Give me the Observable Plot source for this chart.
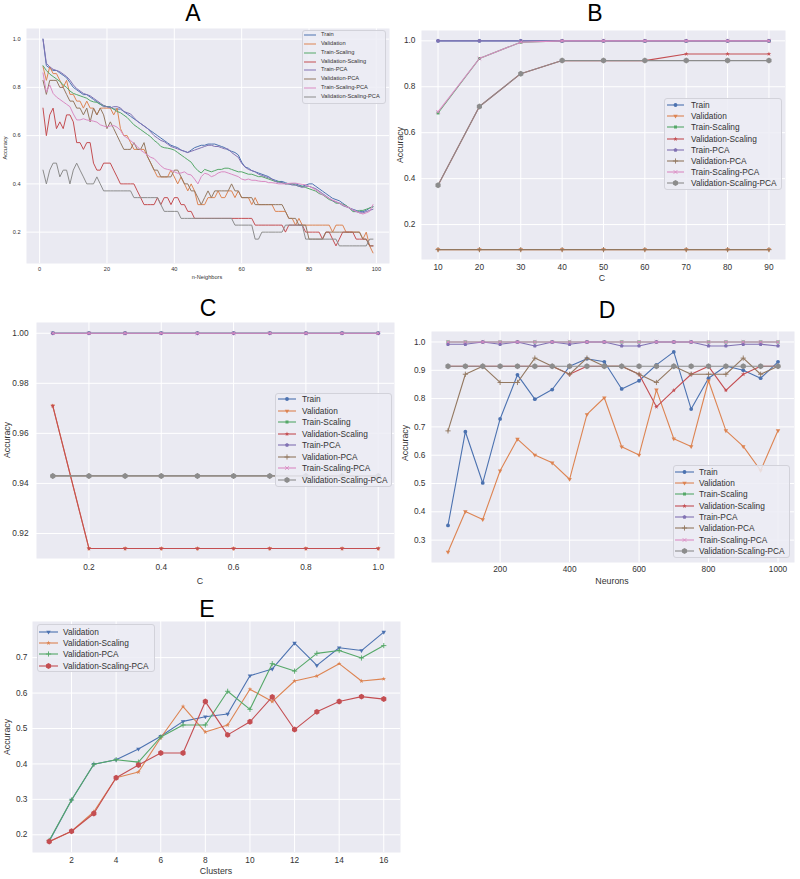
<!DOCTYPE html>
<html><head><meta charset="utf-8">
<script src="https://cdn.jsdelivr.net/npm/d3@7"></script>
<script src="https://cdn.jsdelivr.net/npm/@observablehq/plot@0.6"></script>
<style>
body{margin:0;background:#fff;}
#fig{position:relative;width:800px;height:879px;overflow:hidden;font-family:"Liberation Sans",Arial,sans-serif;background:#fff;}
.title{position:absolute;font-family:"Liberation Sans",Arial,sans-serif;font-size:23px;color:#000;transform:translateX(-50%);line-height:1;}
.lab{position:absolute;color:#333;white-space:nowrap;line-height:1;}
.ylab{transform:translate(-50%,-50%) rotate(-90deg);}
.xlab{transform:translate(-50%,-50%);}
.legend{position:absolute;background:rgba(236,236,244,0.85);border:1px solid #d2d2da;border-radius:3px;box-sizing:border-box;}
.ltxt{position:absolute;color:#333;white-space:nowrap;line-height:1;transform:translateY(-50%);}
.lsw{position:absolute;overflow:visible;}
</style></head><body><div id="fig"></div>
<script>
// ---------------- DATA ----------------
const seriesNames = ["Train","Validation","Train-Scaling","Validation-Scaling","Train-PCA","Validation-PCA","Train-Scaling-PCA","Validation-Scaling-PCA"];
const eNames = ["Validation","Validation-Scaling","Validation-PCA","Validation-Scaling-PCA"];

// Panel A (x = n-Neighbors 1..99)
const A_neighbors = Array.from({length: 99}, (_, i) => i + 1);
const A_xTicks = [0, 20, 40, 60, 80, 100];
const A_yTicks = [0.2, 0.4, 0.6, 0.8, 1.0];
const A_train = [1.00,0.89,0.88,0.87,0.87,0.86,0.85,0.84,0.82,0.80,
 0.79,0.78,0.77,0.77,0.76,0.75,0.74,0.73,0.72,0.72,
 0.72,0.71,0.71,0.71,0.70,0.69,0.68,0.67,0.66,0.65,
 0.64,0.63,0.62,0.61,0.60,0.59,0.58,0.57,0.56,0.555,
 0.55,0.54,0.535,0.53,0.54,0.55,0.555,0.56,0.56,0.565,
 0.565,0.565,0.56,0.555,0.55,0.54,0.535,0.53,0.52,0.49,
 0.47,0.465,0.455,0.45,0.445,0.44,0.435,0.43,0.42,0.415,
 0.41,0.41,0.405,0.40,0.40,0.40,0.395,0.39,0.395,0.40,
 0.40,0.39,0.38,0.37,0.36,0.35,0.34,0.335,0.33,0.32,
 0.31,0.30,0.295,0.29,0.285,0.285,0.29,0.30,0.305];
const A_validation = [0.886,0.829,0.886,0.857,0.857,0.829,0.800,0.829,0.771,0.771,
 0.743,0.743,0.714,0.743,0.714,0.714,0.686,0.714,0.714,0.714,
 0.714,0.686,0.714,0.629,0.600,0.600,0.571,0.543,0.543,0.543,
 0.543,0.514,0.486,0.457,0.429,0.429,0.429,0.429,0.457,0.429,
 0.400,0.429,0.400,0.371,0.400,0.371,0.314,0.314,0.314,0.343,
 0.343,0.343,0.371,0.343,0.343,0.371,0.371,0.343,0.371,0.343,
 0.343,0.343,0.314,0.343,0.314,0.314,0.314,0.314,0.314,0.286,
 0.286,0.286,0.286,0.257,0.257,0.229,0.257,0.229,0.229,0.229,
 0.229,0.229,0.229,0.229,0.229,0.229,0.200,0.229,0.229,0.229,
 0.200,0.200,0.200,0.200,0.200,0.171,0.200,0.143,0.114];
const A_trainScaling = [0.89,0.87,0.855,0.845,0.835,0.825,0.81,0.80,0.785,0.775,
 0.77,0.765,0.76,0.755,0.745,0.74,0.738,0.73,0.725,0.72,
 0.717,0.71,0.70,0.695,0.685,0.675,0.66,0.645,0.635,0.625,
 0.615,0.605,0.595,0.58,0.57,0.555,0.55,0.548,0.545,0.54,
 0.53,0.52,0.51,0.50,0.49,0.47,0.455,0.445,0.46,0.455,
 0.45,0.455,0.46,0.46,0.465,0.465,0.46,0.455,0.45,0.45,
 0.445,0.44,0.44,0.435,0.43,0.43,0.425,0.42,0.415,0.41,
 0.41,0.405,0.40,0.40,0.40,0.395,0.39,0.39,0.385,0.38,
 0.375,0.37,0.36,0.355,0.345,0.335,0.33,0.32,0.32,0.315,
 0.31,0.30,0.285,0.285,0.29,0.29,0.295,0.30,0.305];
const A_validationScaling = [0.714,0.600,0.686,0.714,0.629,0.657,0.629,0.686,0.686,0.657,
 0.571,0.571,0.543,0.571,0.571,0.486,0.457,0.457,0.486,0.486,
 0.486,0.457,0.429,0.400,0.400,0.400,0.400,0.400,0.371,0.343,
 0.314,0.314,0.314,0.314,0.343,0.314,0.343,0.343,0.314,0.343,
 0.343,0.314,0.314,0.286,0.286,0.257,0.257,0.257,0.257,0.257,
 0.257,0.257,0.257,0.257,0.257,0.257,0.257,0.257,0.257,0.257,
 0.257,0.257,0.257,0.229,0.229,0.229,0.229,0.229,0.229,0.229,
 0.229,0.229,0.200,0.229,0.229,0.229,0.229,0.229,0.200,0.200,
 0.200,0.200,0.200,0.171,0.200,0.200,0.171,0.143,0.171,0.200,
 0.200,0.200,0.200,0.171,0.171,0.171,0.171,0.143,0.143];
const A_trainPCA = [1.00,0.90,0.885,0.875,0.87,0.865,0.855,0.845,0.83,0.81,
 0.795,0.785,0.775,0.77,0.765,0.755,0.745,0.735,0.725,0.72,
 0.715,0.72,0.72,0.715,0.70,0.695,0.69,0.675,0.66,0.65,
 0.64,0.63,0.615,0.60,0.59,0.58,0.575,0.565,0.555,0.55,
 0.545,0.54,0.535,0.53,0.535,0.54,0.545,0.55,0.555,0.56,
 0.56,0.555,0.555,0.55,0.545,0.545,0.53,0.52,0.51,0.485,
 0.47,0.46,0.455,0.45,0.44,0.435,0.43,0.425,0.42,0.41,
 0.405,0.405,0.40,0.40,0.395,0.395,0.39,0.385,0.39,0.39,
 0.385,0.38,0.37,0.36,0.35,0.34,0.33,0.325,0.32,0.31,
 0.305,0.30,0.29,0.285,0.28,0.28,0.285,0.29,0.295];
const A_validationPCA = [0.829,0.771,0.829,0.829,0.829,0.800,0.800,0.771,0.743,0.743,
 0.714,0.714,0.686,0.714,0.657,0.714,0.686,0.714,0.686,0.629,
 0.657,0.629,0.600,0.571,0.543,0.543,0.543,0.571,0.543,0.543,
 0.571,0.514,0.486,0.457,0.457,0.429,0.429,0.429,0.429,0.457,
 0.457,0.429,0.400,0.400,0.371,0.371,0.343,0.314,0.343,0.371,
 0.343,0.371,0.371,0.371,0.371,0.371,0.400,0.371,0.371,0.343,
 0.343,0.343,0.343,0.314,0.314,0.314,0.314,0.314,0.314,0.314,
 0.314,0.314,0.286,0.257,0.257,0.257,0.229,0.229,0.229,0.171,
 0.171,0.171,0.171,0.171,0.200,0.200,0.200,0.200,0.200,0.200,
 0.200,0.200,0.200,0.200,0.200,0.171,0.171,0.143,0.143];
const A_trainScalingPCA = [0.86,0.78,0.81,0.775,0.76,0.75,0.74,0.73,0.72,0.69,
 0.665,0.665,0.67,0.665,0.663,0.66,0.656,0.645,0.64,0.636,
 0.64,0.642,0.635,0.622,0.60,0.59,0.58,0.567,0.555,0.54,
 0.53,0.52,0.51,0.505,0.49,0.475,0.464,0.46,0.457,0.45,
 0.444,0.445,0.45,0.44,0.437,0.42,0.40,0.43,0.444,0.44,
 0.43,0.435,0.445,0.45,0.45,0.445,0.44,0.435,0.43,0.42,
 0.416,0.42,0.415,0.415,0.412,0.41,0.41,0.405,0.405,0.403,
 0.40,0.40,0.40,0.402,0.403,0.403,0.40,0.398,0.396,0.39,
 0.383,0.375,0.365,0.355,0.348,0.34,0.333,0.327,0.32,0.313,
 0.307,0.30,0.293,0.286,0.28,0.275,0.28,0.286,0.314];
const A_validationScalingPCA = [0.457,0.400,0.457,0.486,0.486,0.429,0.457,0.457,0.400,0.457,
 0.486,0.457,0.429,0.400,0.400,0.400,0.429,0.400,0.371,0.371,
 0.371,0.371,0.371,0.371,0.371,0.371,0.371,0.343,0.343,0.343,
 0.343,0.343,0.343,0.343,0.343,0.314,0.286,0.286,0.286,0.286,
 0.286,0.257,0.257,0.257,0.257,0.257,0.257,0.257,0.257,0.257,
 0.257,0.257,0.257,0.257,0.257,0.257,0.257,0.229,0.229,0.229,
 0.229,0.229,0.229,0.171,0.171,0.200,0.200,0.200,0.200,0.200,
 0.200,0.200,0.229,0.229,0.229,0.229,0.229,0.229,0.171,0.171,
 0.171,0.171,0.171,0.171,0.171,0.171,0.171,0.171,0.143,0.143,
 0.143,0.143,0.143,0.143,0.143,0.143,0.143,0.171,0.171];

// Panel B (x = C)
const B_C = [10, 20, 30, 40, 50, 60, 70, 80, 90];
const B_yTicks = [0.2, 0.4, 0.6, 0.8, 1.0];
const B_train = [1,1,1,1,1,1,1,1,1];
const B_validation = [0.091,0.091,0.091,0.091,0.091,0.091,0.091,0.091,0.091];
const B_trainScaling = [0.686,0.923,0.994,1,1,1,1,1,1];
const B_validationScaling = [0.371,0.714,0.857,0.914,0.914,0.914,0.943,0.943,0.943];
const B_trainPCA = [1,1,1,1,1,1,1,1,1];
const B_validationPCA = [0.091,0.091,0.091,0.091,0.091,0.091,0.091,0.091,0.091];
const B_trainScalingPCA = [0.691,0.923,0.994,1,1,1,1,1,1];
const B_validationScalingPCA = [0.371,0.714,0.857,0.914,0.914,0.914,0.914,0.914,0.914];

// Panel C (x = C)
const C_C = [0.1,0.2,0.3,0.4,0.5,0.6,0.7,0.8,0.9,1.0];
const C_xTicks = [0.2,0.4,0.6,0.8,1.0];
const C_yTicks = [0.92,0.94,0.96,0.98,1.00];
const C_train = [1,1,1,1,1,1,1,1,1,1];
const C_validation = [0.971,0.914,0.914,0.914,0.914,0.914,0.914,0.914,0.914,0.914];
const C_trainScaling = [1,1,1,1,1,1,1,1,1,1];
const C_validationScaling = [0.971,0.914,0.914,0.914,0.914,0.914,0.914,0.914,0.914,0.914];
const C_trainPCA = [1,1,1,1,1,1,1,1,1,1];
const C_validationPCA = [0.943,0.943,0.943,0.943,0.943,0.943,0.943,0.943,0.943,0.943];
const C_trainScalingPCA = [1,1,1,1,1,1,1,1,1,1];
const C_validationScalingPCA = [0.943,0.943,0.943,0.943,0.943,0.943,0.943,0.943,0.943,0.943];

// Panel D (x = Neurons)
const D_neurons = [50,100,150,200,250,300,350,400,450,500,550,600,650,700,750,800,850,900,950,1000];
const D_xTicks = [200,400,600,800,1000];
const D_yTicks = [0.3,0.4,0.5,0.6,0.7,0.8,0.9,1.0];
const D_train = [0.352,0.683,0.502,0.728,0.884,0.798,0.832,0.914,0.941,0.930,0.834,0.863,0.919,0.965,0.763,0.872,0.915,0.900,0.872,0.930];
const D_validation = [0.258,0.401,0.373,0.545,0.657,0.601,0.573,0.515,0.744,0.803,0.630,0.601,0.831,0.658,0.631,0.863,0.687,0.631,0.546,0.687];
const D_trainScaling = [1,1,1,1,1,1,1,1,1,1,1,1,1,1,1,1,1,1,1,1];
const D_validationScaling = [0.914,0.914,0.914,0.914,0.914,0.914,0.914,0.886,0.914,0.914,0.914,0.886,0.771,0.829,0.886,0.914,0.829,0.886,0.914,0.914];
const D_trainPCA = [0.992,0.992,1.0,0.992,1.0,0.986,1.0,0.992,1.0,1.0,0.986,0.986,1.0,1.0,1.0,0.986,0.986,0.992,0.992,0.986];
const D_validationPCA = [0.686,0.886,0.914,0.857,0.857,0.943,0.914,0.886,0.943,0.914,0.914,0.886,0.857,0.914,0.886,0.886,0.886,0.943,0.886,0.914];
const D_trainScalingPCA = [1,1,1,1,1,1,1,1,1,1,1,1,1,1,1,1,1,1,1,1];
const D_validationScalingPCA = [0.914,0.914,0.914,0.914,0.914,0.914,0.914,0.914,0.914,0.914,0.914,0.914,0.914,0.914,0.914,0.914,0.914,0.914,0.914,0.914];

// Panel E (x = Clusters)
const E_clusters = [1,2,3,4,5,6,7,8,9,10,11,12,13,14,15,16];
const E_xTicks = [2,4,6,8,10,12,14,16];
const E_yTicks = [0.2,0.3,0.4,0.5,0.6,0.7];
const E_validation = [0.182,0.298,0.399,0.412,0.442,0.478,0.520,0.533,0.541,0.649,0.668,0.741,0.678,0.728,0.720,0.772];
const E_validationScaling = [0.180,0.210,0.265,0.361,0.377,0.474,0.562,0.490,0.510,0.611,0.576,0.634,0.648,0.683,0.634,0.640];
const E_validationPCA = [0.184,0.298,0.399,0.412,0.405,0.476,0.510,0.510,0.605,0.554,0.683,0.662,0.712,0.720,0.699,0.734];
const E_validationScalingPCA = [0.181,0.210,0.260,0.361,0.397,0.431,0.431,0.576,0.482,0.519,0.589,0.497,0.547,0.576,0.590,0.583];

// ---------------- STYLE ----------------
const palette = ["#4C72B0","#DD8452","#55A868","#C44E52","#8172B3","#937860","#DA8BC3","#8C8C8C"];
function poly(n, rot, scale) {
  return {draw(ctx, size) {
    const r = Math.sqrt(size / Math.PI) * scale;
    for (let i = 0; i < n; i++) {
      const a = rot + 2 * Math.PI * i / n;
      const x = r * Math.sin(a), y = -r * Math.cos(a);
      if (i) ctx.lineTo(x, y); else ctx.moveTo(x, y);
    }
    ctx.closePath();
  }};
}
const triDown = poly(3, Math.PI, 1.35);
const pentagon = poly(5, 0, 1.15);
const hexagon = poly(6, 0, 1.1);
const plusSym = {draw(ctx, size) { const r = Math.sqrt(size / Math.PI) * 1.3; ctx.moveTo(-r, 0); ctx.lineTo(r, 0); ctx.moveTo(0, -r); ctx.lineTo(0, r); }};
const timesSym = {draw(ctx, size) { const r = Math.sqrt(size / Math.PI) * 1.0; ctx.moveTo(-r, -r); ctx.lineTo(r, r); ctx.moveTo(-r, r); ctx.lineTo(r, -r); }};
const markerSet = [
  {sym: d3.symbolCircle, r: 1.9, stroked: false},
  {sym: triDown, r: 1.9, stroked: false},
  {sym: d3.symbolSquare, r: 1.7, stroked: false},
  {sym: d3.symbolStar, r: 1.45, stroked: false},
  {sym: pentagon, r: 1.8, stroked: false},
  {sym: plusSym, r: 2.0, stroked: true},
  {sym: timesSym, r: 1.8, stroked: true},
  {sym: hexagon, r: 2.7, stroked: false}
];
const eMarkers = [markerSet[1], markerSet[3], markerSet[5], markerSet[7]];

const fig = document.getElementById("fig");

function rows(xs, ys) { return xs.map((x, i) => ({x, y: ys[i]})); }

function makePanel(p) {
  const [fl, ft, fr, fb] = p.frame;
  const marks = [
    Plot.frame({fill: "#EAEAF2", stroke: "none"}),
    Plot.ruleX(p.xTicks, {stroke: "#ffffff", strokeWidth: 1}),
    Plot.ruleY(p.yTicks, {stroke: "#ffffff", strokeWidth: 1})
  ];
  p.series.forEach(s => {
    const data = rows(p.xs, s.values);
    marks.push(Plot.line(data, {x: "x", y: "y", stroke: s.color, strokeWidth: p.lw}));
    if (s.marker) {
      const m = s.marker;
      marks.push(Plot.dot(data, {x: "x", y: "y", symbol: m.sym, r: m.r,
        fill: m.stroked ? "none" : s.color, stroke: m.stroked ? s.color : "none", strokeWidth: m.stroked ? 0.9 : 0}));
    }
  });
  const svg = Plot.plot({
    width: p.width, height: p.height,
    marginLeft: fl - p.left, marginTop: ft - p.top,
    marginRight: p.left + p.width - fr, marginBottom: p.top + p.height - fb,
    style: {background: "transparent", color: "#333", fontSize: p.fontSize + "px",
            fontFamily: "'Liberation Sans', Arial, sans-serif", overflow: "visible"},
    x: {domain: p.xDomain, ticks: p.xTicks, tickSize: 0, tickPadding: p.xPad, tickFormat: p.xFmt, label: null},
    y: {domain: p.yDomain, ticks: p.yTicks, tickSize: 0, tickPadding: p.yPad, tickFormat: p.yFmt, label: null},
    marks
  });
  svg.style.position = "absolute";
  svg.style.left = p.left + "px";
  svg.style.top = p.top + "px";
  fig.appendChild(svg);
}

function addText(cls, text, x, y, size, extra) {
  const d = document.createElement("div");
  d.className = cls;
  d.textContent = text;
  d.style.left = x + "px";
  d.style.top = y + "px";
  if (size) d.style.fontSize = size + "px";
  if (extra) Object.assign(d.style, extra);
  fig.appendChild(d);
}

function addLegend(L) {
  const box = document.createElement("div");
  box.className = "legend";
  Object.assign(box.style, {left: L.box[0] + "px", top: L.box[1] + "px", width: (L.box[2] - L.box[0]) + "px", height: (L.box[3] - L.box[1]) + "px"});
  fig.appendChild(box);
  L.names.forEach((name, i) => {
    const y = L.row0 + i * L.step;
    const w = L.hx1 - L.hx0;
    const ns = "http://www.w3.org/2000/svg";
    const sv = document.createElementNS(ns, "svg");
    sv.setAttribute("class", "lsw");
    sv.setAttribute("width", w); sv.setAttribute("height", 10);
    sv.style.left = L.hx0 + "px"; sv.style.top = (y - 5) + "px";
    const ln = document.createElementNS(ns, "line");
    ln.setAttribute("x1", 0); ln.setAttribute("x2", w); ln.setAttribute("y1", 5); ln.setAttribute("y2", 5);
    ln.setAttribute("stroke", L.colors[i]); ln.setAttribute("stroke-width", L.lw);
    sv.appendChild(ln);
    if (L.markers) {
      const m = L.markers[i];
      const pth = document.createElementNS(ns, "path");
      pth.setAttribute("d", d3.symbol(m.sym, Math.PI * m.r * m.r)());
      pth.setAttribute("transform", `translate(${w / 2},5)`);
      pth.setAttribute("fill", m.stroked ? "none" : L.colors[i]);
      pth.setAttribute("stroke", m.stroked ? L.colors[i] : "none");
      pth.setAttribute("stroke-width", 0.9);
      sv.appendChild(pth);
    }
    fig.appendChild(sv);
    const t = document.createElement("div");
    t.className = "ltxt";
    t.textContent = name;
    t.style.left = L.tx + "px"; t.style.top = y + "px"; t.style.fontSize = L.fontSize + "px";
    fig.appendChild(t);
  });
}

function eightSeries(vals, withMarkers) {
  return vals.map((v, i) => ({values: v, color: palette[i], marker: withMarkers ? markerSet[i] : null}));
}

// ---------------- PANEL A ----------------
makePanel({left: 0, top: 0, width: 395, height: 290, frame: [26, 28, 389, 263],
  xs: A_neighbors, xDomain: [-3.9, 103.9], yDomain: [0.070, 1.044],
  xTicks: A_xTicks, yTicks: A_yTicks, xFmt: d3.format("d"), yFmt: d3.format(".1f"),
  fontSize: 5.6, xPad: 4, yPad: 6, lw: 1,
  series: eightSeries([A_train, A_validation, A_trainScaling, A_validationScaling, A_trainPCA, A_validationPCA, A_trainScalingPCA, A_validationScalingPCA], false)});
addText("lab ylab", "Accuracy", 6, 148, 5.6);
addText("lab xlab", "n-Neighbors", 207, 278, 5.6);
addLegend({box: [302, 30, 386, 104], names: seriesNames, colors: palette, markers: null,
  row0: 35, step: 8.86, hx0: 304, hx1: 316, tx: 321, fontSize: 5.7, lw: 1});

// ---------------- PANEL B ----------------
makePanel({left: 395, top: 0, width: 405, height: 290, frame: [421, 30, 785, 259],
  xs: B_C, xDomain: [6, 94], yDomain: [0.048, 1.045],
  xTicks: B_C, yTicks: B_yTicks, xFmt: d3.format("d"), yFmt: d3.format(".1f"),
  fontSize: 8.3, xPad: 5, yPad: 6, lw: 1.1,
  series: eightSeries([B_train, B_validation, B_trainScaling, B_validationScaling, B_trainPCA, B_validationPCA, B_trainScalingPCA, B_validationScalingPCA], true)});
addText("lab ylab", "Accuracy", 400, 145, 8.8);
addText("lab xlab", "C", 602, 278, 8.8);
addLegend({box: [664, 98, 782, 190], names: seriesNames, colors: palette, markers: markerSet,
  row0: 105, step: 11.2, hx0: 667, hx1: 684, tx: 691, fontSize: 8.3, lw: 1.1});

// ---------------- PANEL C ----------------
makePanel({left: 0, top: 290, width: 400, height: 300, frame: [36, 322, 394, 558],
  xs: C_C, xDomain: [0.055, 1.045], yDomain: [0.9100, 1.0043],
  xTicks: C_xTicks, yTicks: C_yTicks, xFmt: d3.format(".1f"), yFmt: d3.format(".2f"),
  fontSize: 8.3, xPad: 6, yPad: 8, lw: 1.1,
  series: eightSeries([C_train, C_validation, C_trainScaling, C_validationScaling, C_trainPCA, C_validationPCA, C_trainScalingPCA, C_validationScalingPCA], true)});
addText("lab ylab", "Accuracy", 7, 440, 8.8);
addText("lab xlab", "C", 200, 581, 8.8);
addLegend({box: [275, 393, 392, 487], names: seriesNames, colors: palette, markers: markerSet,
  row0: 399.3, step: 11.5, hx0: 278, hx1: 296, tx: 302, fontSize: 8.3, lw: 1.1});

// ---------------- PANEL D ----------------
makePanel({left: 400, top: 290, width: 400, height: 300, frame: [431, 331, 794, 562],
  xs: D_neurons, xDomain: [2.5, 1047.5], yDomain: [0.221, 1.037],
  xTicks: D_xTicks, yTicks: D_yTicks, xFmt: d3.format("d"), yFmt: d3.format(".1f"),
  fontSize: 8.3, xPad: 4, yPad: 6, lw: 1.1,
  series: eightSeries([D_train, D_validation, D_trainScaling, D_validationScaling, D_trainPCA, D_validationPCA, D_trainScalingPCA, D_validationScalingPCA], true)});
addText("lab ylab", "Accuracy", 405, 443, 8.8);
addText("lab xlab", "Neurons", 612, 581, 8.8);
addLegend({box: [673, 465, 790, 558], names: seriesNames, colors: palette, markers: markerSet,
  row0: 471.7, step: 11.33, hx0: 675, hx1: 694, tx: 699, fontSize: 8.3, lw: 1.1});

// ---------------- PANEL E ----------------
makePanel({left: 0, top: 590, width: 400, height: 289, frame: [32, 621, 400, 852],
  xs: E_clusters, xDomain: [0.25, 16.75], yDomain: [0.150, 0.802],
  xTicks: E_xTicks, yTicks: E_yTicks, xFmt: d3.format("d"), yFmt: d3.format(".1f"),
  fontSize: 8.3, xPad: 5, yPad: 5, lw: 1.1,
  series: [E_validation, E_validationScaling, E_validationPCA, E_validationScalingPCA].map((v, i) => ({values: v, color: palette[i], marker: eMarkers[i]}))});
addText("lab ylab", "Accuracy", 7, 737, 8.8);
addText("lab xlab", "Clusters", 216, 871, 8.8);
addLegend({box: [37, 624, 155, 672], names: eNames, colors: palette.slice(0, 4), markers: eMarkers,
  row0: 631.7, step: 11.33, hx0: 39, hx1: 58, tx: 63, fontSize: 8.3, lw: 1.1});

// ---------------- TITLES ----------------
addText("title", "A", 193, 2);
addText("title", "B", 595, 2);
addText("title", "C", 208, 297);
addText("title", "D", 607, 299);
addText("title", "E", 207, 598);
</script></body></html>
